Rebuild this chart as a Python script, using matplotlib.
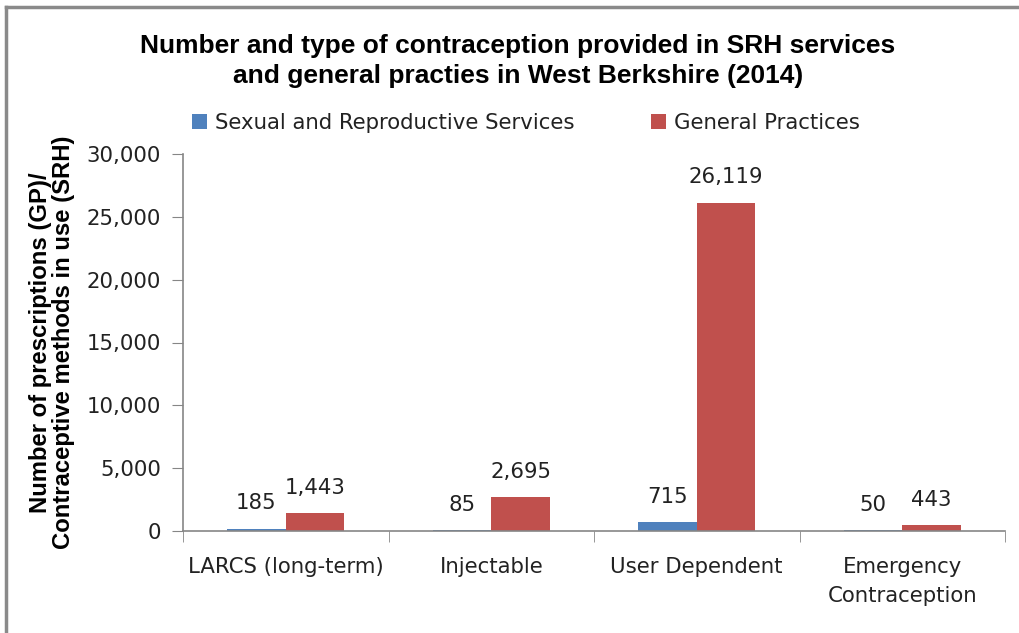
import numpy as np
import matplotlib
matplotlib.use("Agg")
import matplotlib.pyplot as plt
from matplotlib.lines import Line2D

# ---- data ---------------------------------------------------------------
categories = ["LARCS (long-term)", "Injectable", "User Dependent",
              "Emergency\nContraception"]
srh_values = [185, 85, 715, 50]
gp_values = [1443, 2695, 26119, 443]
series_names = ["Sexual and Reproductive Services", "General Practices"]
y_ticks = [0, 5000, 10000, 15000, 20000, 25000, 30000]

title = ("Number and type of contraception provided in SRH services\n"
         "and general practies in West Berkshire (2014)")
y_label = "Number of prescriptions (GP)/\nContraceptive methods in use (SRH)"

blue = "#4F81BD"
red = "#C0504D"
axis_grey = "#868686"

# ---- figure -------------------------------------------------------------
fig = plt.figure(figsize=(10.19, 6.33), dpi=100)
W, H = 1019, 633
ax = fig.add_axes([183 / W, 1 - 531 / H, (1005 - 183) / W, (531 - 154) / H])

x = np.arange(len(categories))
bw = 0.285
ax.bar(x - bw / 2, srh_values, bw, color=blue, label=series_names[0])
ax.bar(x + bw / 2, gp_values, bw, color=red, label=series_names[1])

label_font = dict(fontsize=15.3, color="#222222", family="DejaVu Sans")
for xi, v in zip(x - bw / 2, srh_values):
    ax.annotate(f"{v:,}", (xi, v), xytext=(0, 11), textcoords="offset points",
                ha="center", va="bottom", **label_font)
for xi, v in zip(x + bw / 2, gp_values):
    ax.annotate(f"{v:,}", (xi, v), xytext=(0, 11), textcoords="offset points",
                ha="center", va="bottom", **label_font)

ax.set_xlim(-0.5, len(categories) - 0.5)
ax.set_ylim(0, 30000)
ax.set_yticks(y_ticks)
ax.set_yticklabels([f"{t:,}" for t in y_ticks], **label_font)

# category labels centred, tick marks at the boundaries
ax.set_xticks(x)
ax.set_xticklabels(categories, linespacing=1.55, **label_font)
ax.tick_params(axis="x", which="major", length=0, pad=19)
ax.set_xticks(np.arange(len(categories) + 1) - 0.5, minor=True)
ax.tick_params(axis="x", which="minor", length=8, color=axis_grey, direction="out")
ax.tick_params(axis="y", length=8, color=axis_grey, direction="out", pad=8)

for s in ["top", "right"]:
    ax.spines[s].set_visible(False)
for s in ["left", "bottom"]:
    ax.spines[s].set_color(axis_grey)
    ax.spines[s].set_linewidth(1.2)

ax.set_ylabel(y_label, fontsize=17.2, fontweight="bold", family="Liberation Sans",
              labelpad=8, linespacing=1.0)

fig.text(518 / W, 1 - 61 / H, title, ha="center", va="center", fontsize=19,
         fontweight="bold", family="Liberation Sans", linespacing=1.3)

leg = fig.legend(loc="center", bbox_to_anchor=(526 / W, 1 - 123 / H), ncol=2,
                 frameon=False, handlelength=0.7, handleheight=0.7,
                 handletextpad=0.4, columnspacing=3.6,
                 prop=dict(family="DejaVu Sans", size=15.3))
for t in leg.get_texts():
    t.set_color("#222222")

# frame of the embedded picture (top and left edges)
fig.add_artist(Line2D([6 / W, 1], [1 - 7 / H, 1 - 7 / H], color="#8a8a8a",
                      lw=2.5, transform=fig.transFigure))
fig.add_artist(Line2D([6 / W, 6 / W], [0, 1 - 7 / H], color="#8a8a8a",
                      lw=2.5, transform=fig.transFigure))

fig.savefig("out.png", dpi=100)
